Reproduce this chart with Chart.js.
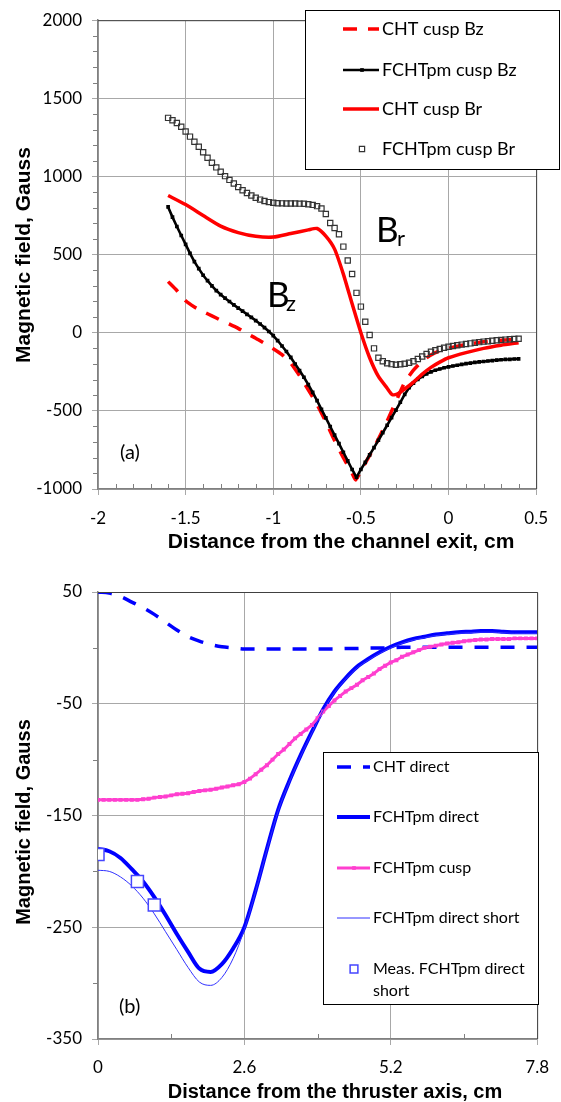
<!DOCTYPE html>
<html>
<head>
<meta charset="utf-8">
<script src="https://cdn.jsdelivr.net/npm/chart.js@4.4.0/dist/chart.umd.min.js"></script>
<style>
  html, body { margin: 0; padding: 0; background: #fff; }
  #wrap { position: relative; width: 561px; height: 1102px; }
  .box { position: absolute; left: 0; width: 561px; height: 551px; }
</style>
</head>
<body>
<div id="wrap">
  <div class="box" style="top:0"><canvas id="chartA" width="561" height="551"></canvas></div>
  <div class="box" style="top:551px"><canvas id="chartB" width="561" height="551"></canvas></div>
</div>
<script>
// ---- (a) cusp field vs distance from the channel exit, cm ----
const xFine = [-1.6,-1.575,-1.55,-1.525,-1.5,-1.475,-1.45,-1.425,-1.4,-1.375,-1.35,-1.325,-1.3,-1.275,-1.25,-1.225,-1.2,-1.175,-1.15,-1.125,
  -1.1,-1.075,-1.05,-1.025,-1,-0.975,-0.95,-0.925,-0.9,-0.875,-0.85,-0.825,-0.8,-0.775,-0.75,-0.725,-0.7,-0.675,-0.65,-0.625,
  -0.6,-0.575,-0.55,-0.525,-0.5,-0.475,-0.45,-0.425,-0.4,-0.375,-0.35,-0.325,-0.3,-0.275,-0.25,-0.225,-0.2,-0.175,-0.15,-0.125,
  -0.1,-0.075,-0.05,-0.025,0,0.025,0.05,0.075,0.1,0.125,0.15,0.175,0.2,0.225,0.25,0.275,0.3,0.325,0.35,0.375,0.4];
const fchtBz = [805,740,680,622,565,508,455,410,368,333,300,270,244,221,200,178,158,138,118,98,
  78,56,33,8,-18,-50,-85,-120,-158,-200,-242,-285,-332,-382,-435,-490,-545,-600,-655,-710,
  -765,-820,-875,-925,-875,-830,-782,-735,-688,-640,-592,-543,-495,-445,-395,-352,-322,-298,-280,-263,
  -250,-240,-232,-224,-218,-213,-208,-203,-198,-194,-190,-187,-184,-181,-178,-175,-173,-171,-170,-168,-167];
const fchtBr = [1375,1360,1342,1318,1288,1255,1222,1190,1155,1120,1088,1058,1030,1002,978,955,932,912,894,878,
  864,852,843,836,832,829,828,827,827,827,826,825,822,818,810,795,760,702,670,630,
  551,462,376,255,167,70,-15,-100,-160,-182,-195,-201,-205,-202,-198,-192,-182,-168,-152,-136,
  -122,-112,-104,-96,-90,-85,-80,-76,-72,-68,-64,-60,-57,-54,-51,-48,-46,-44,-42,-40,-38];
const chtBzX = [-1.6,-1.55,-1.5,-1.45,-1.4,-1.35,-1.3,-1.25,-1.2,-1.15,-1.1,-1.05,-1,-0.95,-0.9,-0.85,-0.8,-0.75,-0.7,-0.65,
  -0.6,-0.575,-0.55,-0.53,-0.5,-0.45,-0.4,-0.35,-0.3,-0.25,-0.2,-0.15,-0.1,-0.05,0,0.1,0.2,0.3,0.4];
const chtBz = [327,270,205,165,135,108,80,55,28,-5,-35,-68,-102,-140,-195,-275,-365,-460,-570,-690,
  -800,-850,-900,-942,-885,-785,-680,-565,-440,-318,-240,-182,-142,-116,-100,-75,-58,-48,-42];
const chtBrX = [-1.6,-1.5,-1.4,-1.3,-1.2,-1.1,-1,-0.9,-0.8,-0.75,-0.7,-0.65,-0.6,-0.55,-0.5,-0.45,-0.4,-0.35,-0.32,-0.29,
  -0.25,-0.2,-0.15,-0.1,-0.05,0,0.1,0.2,0.3,0.4];
const chtBr = [878,820,750,682,641,617,612,635,658,667,618,535,375,185,0,-160,-280,-355,-397,-391,
  -360,-316,-265,-222,-188,-160,-127,-100,-80,-64];

// ---- (b) field vs distance from the thruster axis, cm ----
const xAxisB = [0,0.2,0.4,0.6,0.8,1,1.2,1.4,1.6,1.8,2,2.2,2.4,2.6,2.8,3,3.2,3.4,3.6,3.8,
  4,4.2,4.4,4.6,4.8,5,5.2,5.4,5.6,5.8,6,6.2,6.4,6.6,6.8,7,7.2,7.4,7.6,7.8];
const chtDirect = [50,49,46,41,36,30,23,16,10,6,3,1,0,-1,-1,-1,-1,-1,-1,-1,
  -1,-1,-0.5,-0.5,0,0,0,0.5,0.5,0.5,0.5,0.5,0.5,0.5,0.5,0.5,0.5,0.5,0.5,0.5];
const fchtDirect = [-180,-182,-188,-198,-209,-223,-239,-256,-272,-287,-290,-283,-269,-250,-217,-180,-145,-119,-96,-75,
  -55,-39,-27,-17,-10,-4,1,5,8,10,12,13,14,14.5,15,15,14.5,14,14,14];
const fchtShort = [-199,-200,-205,-213,-224,-238,-254,-270,-286,-299,-302,-295,-278,-252,-218,-181,-146,-120,-97,-76,
  -56,-40,-28,-18,-11,-5,0,4,7,9,11,12,13,13.5,14,14,13.5,13,13,13];
const xCuspB = [0,0.1,0.2,0.3,0.4,0.5,0.6,0.7,0.8,0.9,1,1.1,1.2,1.3,1.4,1.5,1.6,1.7,1.8,1.9,
  2,2.1,2.2,2.3,2.4,2.5,2.6,2.7,2.8,2.9,3,3.1,3.2,3.3,3.4,3.5,3.6,3.7,3.8,3.9,
  4,4.1,4.2,4.3,4.4,4.5,4.6,4.7,4.8,4.9,5,5.1,5.2,5.3,5.4,5.5,5.6,5.7,5.8,5.9,
  6,6.1,6.2,6.3,6.4,6.5,6.6,6.7,6.8,6.9,7,7.1,7.2,7.3,7.4,7.5,7.6,7.7,7.8];
const fchtCusp = [-136,-136,-136,-136,-136,-136,-136,-136,-135.5,-135,-134,-133.5,-133,-132,-131,-130.5,-130,-129,-128,-127.5,
  -127,-126,-125,-124,-123,-122,-120,-117,-113,-109,-105,-100,-95,-91,-86,-81,-77,-73,-69,-63,
  -57,-52,-47,-43,-39,-36,-33,-29,-26,-23,-19,-16,-13,-11,-8,-6,-4,-2,0,1,
  2,3,4,4.5,5,6,6.5,7,7.5,7.5,8,8,8,8,8.5,8.5,8.5,8.5,8.5];
const measX = [0, 0.7, 1.0];
const measB = [-185, -209, -230];

Chart.defaults.font.family = 'Lato, "Liberation Sans", sans-serif';
Chart.defaults.font.size = 17;
Chart.defaults.color = '#000';

function pts(xs, ys) {
  return xs.map((x, i) => ({ x: x, y: ys[i] }));
}

function decor(spec) {
  return {
    id: 'decor',
    afterDraw(chart) {
      const ctx = chart.ctx, a = chart.chartArea;
      const sx = chart.scales.x, sy = chart.scales.y;
      ctx.save();
      // top and right frame
      ctx.strokeStyle = '#404040';
      ctx.lineWidth = 1;
      ctx.beginPath();
      ctx.moveTo(a.left, a.top + 0.5);
      ctx.lineTo(a.right + 0.5, a.top + 0.5);
      ctx.lineTo(a.right + 0.5, a.bottom);
      ctx.stroke();
      // minor ticks
      ctx.strokeStyle = '#808080';
      ctx.beginPath();
      const ny = Math.round((sy.max - sy.min) / spec.yMinor);
      for (let k = 1; k < ny; k++) {
        if (k % spec.yRatio === 0) continue;
        const y = Math.round(sy.getPixelForValue(sy.min + k * spec.yMinor)) + 0.5;
        ctx.moveTo(a.left - 5, y); ctx.lineTo(a.left, y);
      }
      const nx = Math.round((sx.max - sx.min) / spec.xMinor);
      for (let k = 1; k < nx; k++) {
        if (k % spec.xRatio === 0) continue;
        const x = Math.round(sx.getPixelForValue(sx.min + k * spec.xMinor)) + 0.5;
        ctx.moveTo(x, a.bottom); ctx.lineTo(x, a.bottom - 5);
      }
      ctx.stroke();

      // axis titles
      ctx.fillStyle = '#000';
      ctx.textAlign = 'center';
      ctx.textBaseline = 'middle';
      ctx.font = spec.titleFont;
      ctx.fillText(spec.xTitle, spec.xTitlePos[0], spec.xTitlePos[1]);
      ctx.save();
      ctx.translate(spec.yTitlePos[0], spec.yTitlePos[1]);
      ctx.rotate(-Math.PI / 2);
      ctx.fillText(spec.yTitle, 0, 0);
      ctx.restore();

      // notes on the plot
      ctx.textAlign = 'left';
      ctx.textBaseline = 'alphabetic';
      spec.notes.forEach(n => {
        ctx.font = n.font;
        ctx.fillText(n.text, n.x, n.y);
      });

      // legend box
      const L = spec.legend;
      ctx.fillStyle = '#fff';
      ctx.fillRect(L.x, L.y, L.w, L.h);
      ctx.strokeStyle = '#000';
      ctx.lineWidth = 1;
      ctx.strokeRect(L.x + 0.5, L.y + 0.5, L.w, L.h);
      ctx.font = L.font;
      ctx.textBaseline = 'middle';
      chart.data.datasets.forEach((ds, i) => {
        const y = L.rows[i];
        if (ds.showLine !== false) {
          ctx.strokeStyle = ds.borderColor;
          ctx.lineWidth = ds.borderWidth;
          ctx.setLineDash(ds.borderDash || []);
          ctx.beginPath();
          ctx.moveTo(L.x1, y); ctx.lineTo(L.x2, y);
          ctx.stroke();
          ctx.setLineDash([]);
        }
        if (ds.legendRadius) {
          ctx.fillStyle = ds.pointBackgroundColor;
          ctx.strokeStyle = ds.pointBorderColor;
          ctx.lineWidth = ds.pointBorderWidth;
          Chart.helpers.drawPoint(ctx, { pointStyle: 'rect', radius: ds.legendRadius, rotation: 0, borderWidth: ds.pointBorderWidth }, L.mx, y);
        }
        // wrap long labels
        const words = ds.label.split(' ');
        const lines = [];
        let cur = '';
        words.forEach(w => {
          const t = cur ? cur + ' ' + w : w;
          if (cur && ctx.measureText(t).width > L.maxW) { lines.push(cur); cur = w; } else cur = t;
        });
        lines.push(cur);
        ctx.fillStyle = '#000';
        lines.forEach((t, k) => ctx.fillText(t, L.tx, y + k * L.lh));
      });
      ctx.restore();
    }
  };
}

function axisOpts(min, max, step, fmt, pad) {
  return {
    type: 'linear', min: min, max: max,
    ticks: { stepSize: step, padding: pad, autoSkip: false, maxRotation: 0, callback: fmt, font: { size: 17 } },
    grid: { color: '#a8a8a8', lineWidth: 1, tickLength: 6, drawTicks: true },
    border: { color: '#808080', width: 1.5 }
  };
}

const fmt1 = v => String(Math.round(v * 10) / 10);

// chart (a)
const xA = axisOpts(-2, 0.5, 0.5, fmt1, 13);
xA.afterFit = s => { s.height = 62; };
const yA = axisOpts(-1000, 2000, 500, fmt1, 10);
yA.afterFit = s => { s.width = 98; };

new Chart(document.getElementById('chartA'), {
  type: 'line',
  data: {
    datasets: [
      { label: 'CHT cusp Bz', data: pts(chtBzX, chtBz), borderColor: '#ff0000', borderWidth: 3.5, borderDash: [14, 11],
        pointRadius: 0, tension: 0.2, order: 4 },
      { label: 'FCHTpm cusp Bz', data: pts(xFine, fchtBz), borderColor: '#000', borderWidth: 2.6, pointStyle: 'rect',
        pointRadius: 2.6, pointBackgroundColor: '#000', pointBorderColor: '#000', pointBorderWidth: 0, legendRadius: 2.6, tension: 0, order: 3 },
      { label: 'CHT cusp Br', data: pts(chtBrX, chtBr), borderColor: '#ff0000', borderWidth: 3.5,
        pointRadius: 0, tension: 0.2, order: 2 },
      { label: 'FCHTpm cusp Br', data: pts(xFine, fchtBr), showLine: false, pointStyle: 'rect', pointRadius: 3.7,
        pointBackgroundColor: 'rgba(255,255,255,0)', pointBorderColor: '#333', pointBorderWidth: 1.2, legendRadius: 3.7, order: 1 }
    ]
  },
  options: {
    responsive: false, animation: false, devicePixelRatio: 1, events: [],
    layout: { padding: { top: 20, right: 18, left: 0, bottom: 0 } },
    plugins: { legend: { display: false }, tooltip: { enabled: false } },
    scales: { x: xA, y: yA }
  },
  plugins: [decor({
    yMinor: 100, yRatio: 5, xMinor: 0.1, xRatio: 5,
    titleFont: 'bold 21px "Liberation Sans", Arial, sans-serif',
    xTitle: 'Distance from the channel exit, cm', xTitlePos: [341, 542],
    yTitle: 'Magnetic field, Gauss', yTitlePos: [24, 255],
    notes: [
      { text: '(a)', x: 120, y: 459, font: '20px Lato, sans-serif' },
      { text: 'B', x: 376, y: 242, font: '35px Lato, sans-serif' },
      { text: 'r', x: 397, y: 246, font: '22px Lato, sans-serif' },
      { text: 'B', x: 267, y: 307, font: '35px Lato, sans-serif' },
      { text: 'z', x: 286, y: 311, font: '22px Lato, sans-serif' }
    ],
    legend: { x: 305, y: 10, w: 254, h: 159, rows: [29, 70, 109, 149], x1: 343, x2: 379, mx: 362, tx: 382,
      font: '18px Lato, sans-serif', maxW: 200, lh: 20 }
  })]
});

// chart (b)
const xB = axisOpts(0, 7.8, 2.6, fmt1, 12);
xB.afterFit = s => { s.height = 63; };
const yB = axisOpts(-350, 50, 100, fmt1, 10);
yB.afterFit = s => { s.width = 98; };

new Chart(document.getElementById('chartB'), {
  type: 'line',
  data: {
    datasets: [
      { label: 'CHT direct', data: pts(xAxisB, chtDirect), borderColor: '#0000ff', borderWidth: 3.5, borderDash: [14, 12],
        pointRadius: 0, cubicInterpolationMode: 'monotone', order: 5 },
      { label: 'FCHTpm direct', data: pts(xAxisB, fchtDirect), borderColor: '#0000ff', borderWidth: 4,
        pointRadius: 0, cubicInterpolationMode: 'monotone', order: 4 },
      { label: 'FCHTpm cusp', data: pts(xCuspB, fchtCusp), borderColor: '#ff3fcf', borderWidth: 3, pointStyle: 'rect',
        pointRadius: 2.8, pointBackgroundColor: '#ff3fcf', pointBorderColor: '#ff3fcf', pointBorderWidth: 0, legendRadius: 2.6, tension: 0, order: 3 },
      { label: 'FCHTpm direct short', data: pts(xAxisB, fchtShort), borderColor: '#3030ff', borderWidth: 1,
        pointRadius: 0, cubicInterpolationMode: 'monotone', order: 2 },
      { label: 'Meas. FCHTpm direct short', data: pts(measX, measB), showLine: false, pointStyle: 'rect', pointRadius: 8.5,
        pointBackgroundColor: '#fff', pointBorderColor: '#4646ff', pointBorderWidth: 1.5, legendRadius: 5.5, order: 1 }
    ]
  },
  options: {
    responsive: false, animation: false, devicePixelRatio: 1, events: [],
    layout: { padding: { top: 41, right: 18, left: 0, bottom: 0 } },
    plugins: { legend: { display: false }, tooltip: { enabled: false } },
    scales: { x: xB, y: yB }
  },
  plugins: [decor({
    yMinor: 50, yRatio: 2, xMinor: 1.3, xRatio: 2,
    titleFont: 'bold 20px "Liberation Sans", Arial, sans-serif',
    xTitle: 'Distance from the thruster axis, cm', xTitlePos: [335, 541],
    yTitle: 'Magnetic field, Gauss', yTitlePos: [24, 271],
    notes: [
      { text: '(b)', x: 119, y: 462, font: '20px Lato, sans-serif' }
    ],
    legend: { x: 323, y: 201, w: 215, h: 252, rows: [216, 266, 317, 367, 418], x1: 337, x2: 370, mx: 354, tx: 373,
      font: '16px Lato, sans-serif', maxW: 158, lh: 22 }
  })]
});
</script>
</body>
</html>
